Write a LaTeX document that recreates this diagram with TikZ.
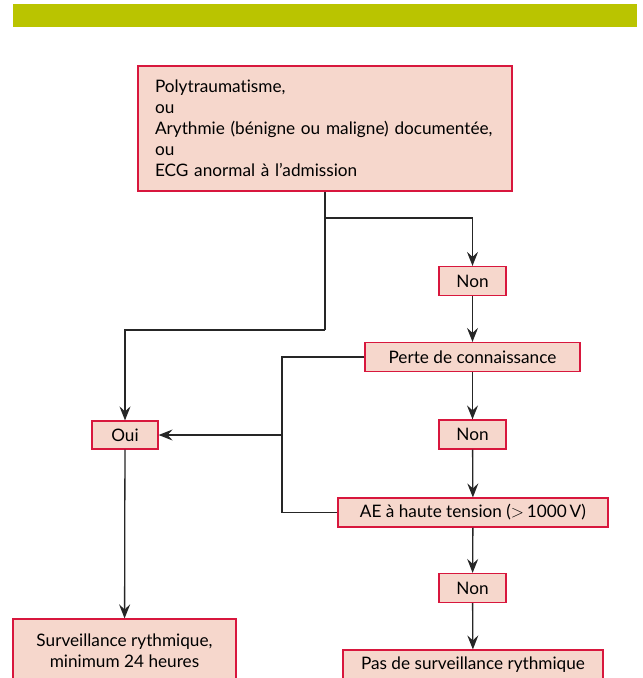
\documentclass[tikz,border=0pt]{standalone}
\usepackage{fontspec}
\setmainfont{Lato}[Ligatures={NoCommon}]
\usetikzlibrary{arrows.meta,calc,positioning}
\definecolor{barGreen}{HTML}{BAC400}
\definecolor{boxFill}{HTML}{F6D7CC}
\definecolor{boxLine}{HTML}{D8173D}
\definecolor{wire}{HTML}{262626}
\tikzset{
    box/.style={draw=boxLine, fill=boxFill, line width=1.2pt, rectangle,
    inner sep=0pt, text centered, font=\fontsize{17.2}{21}\selectfont},
    nonbox/.style={box, minimum width=67pt, minimum height=29pt},
    flow/.style={draw=wire, line width=1.3pt, -{Stealth[length=14pt,width=11pt,inset=5pt]}},
    wireline/.style={draw=wire, line width=1.3pt}
}
\begin{document}
\begin{tikzpicture}[x=1pt,y=-1pt]
  \clip (0,0) rectangle (643,678);
  \fill[white] (0,0) rectangle (643,678);
  \fill[barGreen] (13,4) rectangle (637,27);

  \node[box, minimum width=374pt, minimum height=125pt, text width=340pt,
        align=left] (top) at (325,128.5)
        {Polytraumatisme,\\ou\\Arythmie (bénigne ou maligne) documentée,\\ou\\ECG anormal à l’admission};
  \node[nonbox] (non1) at (472.5,281) {Non};
  \node[box, minimum width=215pt, minimum height=29pt] (perte) at (472.5,357) {Perte de connaissance};
  \node[box, minimum width=270pt, minimum height=29pt] (ae) at (473,512.5) {AE à haute tension ($>$\,1000\,V)};
  \node[nonbox] (non2) at (472.5,434.5) {Non};
  \node[nonbox] (non3) at (472.5,588) {Non};
  \node[box, minimum width=260pt, minimum height=30pt] (pas) at (473,665) {Pas de surveillance rythmique};
  \node[box, minimum width=66pt, minimum height=28pt] (oui) at (125,435) {Oui};
  \node[box, minimum width=223pt, minimum height=63pt, align=center] (surv) at (124.5,650.5)
        {Surveillance rythmique,\\minimum 24 heures};

  \coordinate (split) at (top.south |- 0,218);
  \coordinate (turn) at (top.south |- 0,330);
  \coordinate (busT) at (282,357);
  \coordinate (busB) at (282,512.5);

  \path[wireline] (top.south) -- (turn);
  \path[flow] (split) -| (non1.north);
  \path[flow] (turn) -| (oui.north);
  \path[flow] (non1) -- (perte);
  \path[flow] (perte) -- (non2);
  \path[flow] (non2) -- (ae);
  \path[flow] (ae) -- (non3);
  \path[flow] (non3) -- (pas);
  \path[wireline] (perte.west) -- (busT) -- (busB) -- (ae.west);
  \path[flow] (busT |- oui) -- (oui.east);
  \path[flow] (oui) -- (surv);
\end{tikzpicture}
\end{document}
